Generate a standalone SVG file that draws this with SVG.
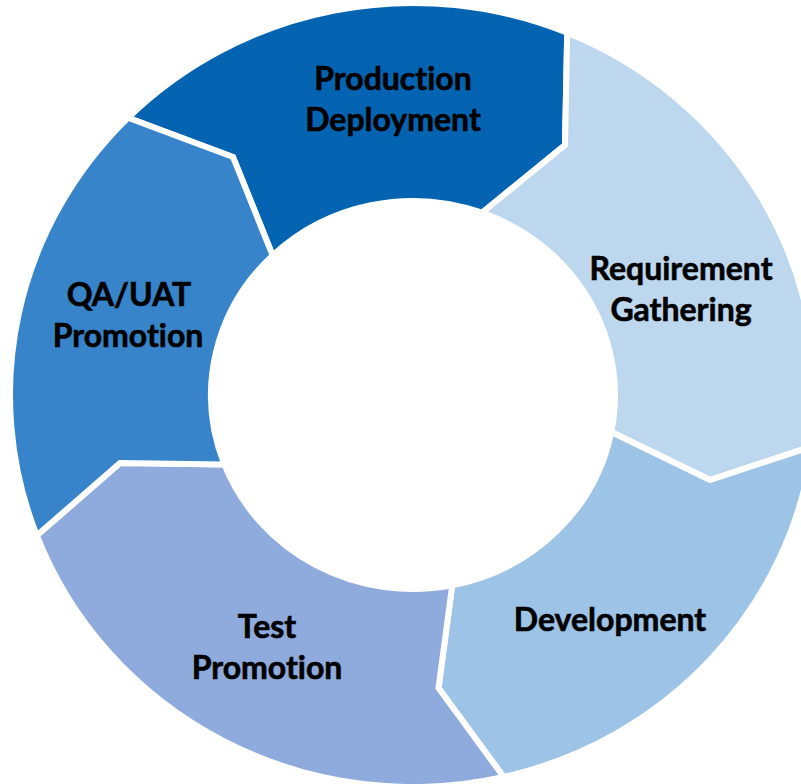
<svg xmlns="http://www.w3.org/2000/svg" width="801" height="784" viewBox="0 0 801 784">
  <style>
    .seg { stroke: #ffffff; stroke-width: 6; stroke-linejoin: miter; }
    .lbl { font-family: Lato, "Liberation Sans", "DejaVu Sans", sans-serif; font-weight: bold; font-size: 32px; fill: #000000; stroke: #000000; stroke-width: 0.6; text-anchor: middle; font-variant-ligatures: none; font-feature-settings: "liga" 0; }
  </style>
  <rect width="801" height="784" fill="#ffffff"/>
  <!-- Ring of five chevron segments, clockwise from the top -->
  <g id="production-deployment">
    <path class="seg" fill="#0564B1" d="M128,117.8 A403,392 0 0 1 567.2,32.8 L565,145 L482.1,212.7 A202,194 0 0 0 272.7,255.5 L233,157 Z"/>
    <text class="lbl" x="393" y="90">Production</text>
    <text class="lbl" x="393" y="131">Deployment</text>
  </g>
  <g id="requirement-gathering">
    <path class="seg" fill="#BDD7EE" d="M567.2,32.8 A403,392 0 0 1 812.5,446.2 L710,480 L611.3,432 A202,194 0 0 0 482.1,212.7 L565,145 Z"/>
    <text class="lbl" x="681" y="280">Requirement</text>
    <text class="lbl" x="681" y="321">Gathering</text>
  </g>
  <g id="development">
    <path class="seg" fill="#9DC3E6" d="M812.5,446.2 A403,392 0 0 1 503.7,777 L438.5,688 L452.2,585.3 A202,194 0 0 0 611.3,432 L710,480 Z"/>
    <text class="lbl" x="610" y="631">Development</text>
  </g>
  <g id="test-promotion">
    <path class="seg" fill="#8FAADC" d="M503.7,777 A403,392 0 0 1 36.8,535.5 L120,463 L224.4,464.5 A202,194 0 0 0 452.2,585.3 L438.5,688 Z"/>
    <text class="lbl" x="267" y="638">Test</text>
    <text class="lbl" x="267" y="679">Promotion</text>
  </g>
  <g id="qa-uat-promotion">
    <path class="seg" fill="#3784CA" d="M36.8,535.5 A403,392 0 0 1 128,117.8 L233,157 L272.7,255.5 A202,194 0 0 0 224.4,464.5 L120,463 Z"/>
    <text class="lbl" x="129" y="306">QA/UAT</text>
    <text class="lbl" x="128" y="347">Promotion</text>
  </g>
  <g id="connectors"/>
</svg>
